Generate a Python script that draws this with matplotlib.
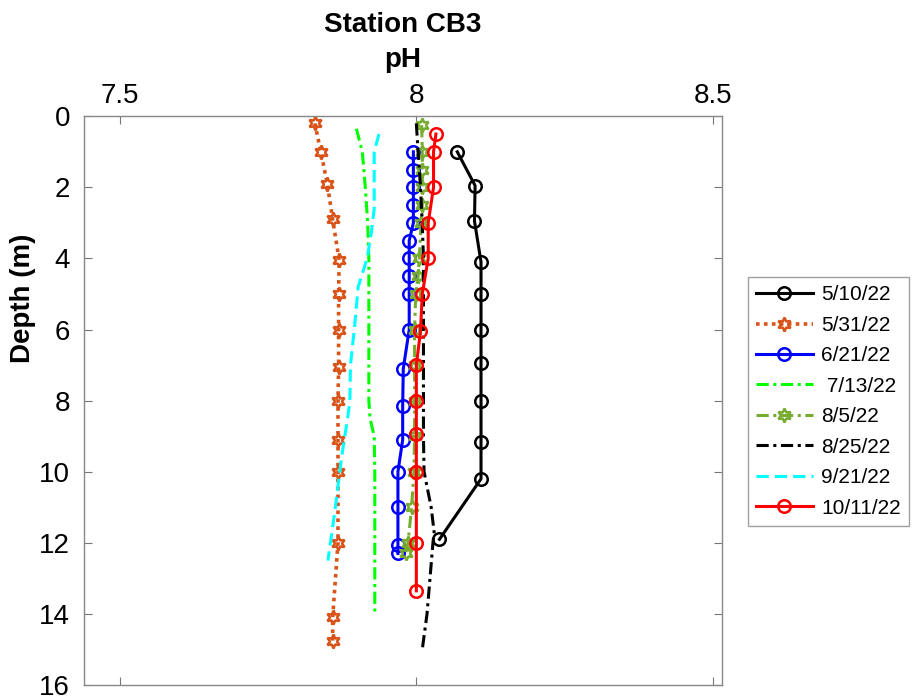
import matplotlib
matplotlib.use('Agg')
import matplotlib.pyplot as plt

plt.rcParams['font.family'] = ['Liberation Sans', 'DejaVu Sans']

# pH profiles, station CB3 (depth in m)
d_0510 = [1.0, 1.95, 2.95, 4.1, 5.0, 6.0, 6.95, 8.0, 9.15, 10.2, 11.9]
ph_0510 = [8.069, 8.099, 8.098, 8.109, 8.109, 8.109, 8.109, 8.109, 8.109, 8.109, 8.039]

d_0531 = [0.2, 1.0, 1.9, 2.9, 4.05, 5.0, 6.0, 7.05, 8.0, 9.1, 10.0, 12.0, 14.1, 14.75]
ph_0531 = [7.829, 7.839, 7.850, 7.859, 7.870, 7.869, 7.869, 7.869, 7.868, 7.868, 7.868,
           7.868, 7.859, 7.859]

d_0621 = [1.0, 1.5, 2.0, 2.5, 3.0, 3.5, 4.0, 4.5, 5.0, 6.0, 7.1, 8.15, 9.1, 10.0, 11.0,
          12.05, 12.3]
ph_0621 = [7.995, 7.995, 7.995, 7.995, 7.995, 7.988, 7.988, 7.988, 7.988, 7.988, 7.978,
           7.977, 7.977, 7.969, 7.969, 7.969, 7.969]

d_0713 = [0.35, 1.0, 2.0, 3.0, 4.0, 5.0, 6.0, 7.0, 8.0, 8.5, 9.0, 10.0, 11.0, 12.0, 13.0, 14.0]
ph_0713 = [7.899, 7.909, 7.914, 7.918, 7.920, 7.920, 7.920, 7.920, 7.920, 7.922, 7.929,
           7.930, 7.930, 7.930, 7.930, 7.930]

d_0805 = [0.25, 1.0, 1.5, 2.0, 2.5, 3.0, 4.0, 4.5, 5.0, 6.0, 7.0, 8.0, 9.0, 10.0, 11.0,
          12.0, 12.3]
ph_0805 = [8.009, 8.010, 8.010, 8.010, 8.010, 8.008, 8.005, 8.003, 7.999, 7.997, 7.997,
           7.997, 7.997, 7.996, 7.992, 7.986, 7.982]

d_0825 = [0.2, 1.0, 2.0, 3.0, 4.0, 5.0, 6.0, 7.0, 8.0, 9.0, 10.0, 11.0, 11.7, 12.0, 13.0,
          14.0, 15.0]
ph_0825 = [8.000, 8.003, 8.007, 8.010, 8.012, 8.012, 8.012, 8.012, 8.012, 8.012, 8.013,
           8.025, 8.030, 8.028, 8.023, 8.018, 8.010]

d_0921 = [0.5, 1.0, 2.0, 2.6, 3.3, 4.0, 4.8, 5.9, 7.0, 8.0, 8.4, 9.6, 11.2, 12.5]
ph_0921 = [7.937, 7.929, 7.929, 7.929, 7.924, 7.917, 7.902, 7.896, 7.889, 7.888, 7.885,
           7.874, 7.862, 7.851]

d_1011 = [0.5, 1.0, 2.0, 3.0, 4.0, 5.0, 6.05, 7.0, 8.0, 8.95, 10.0, 12.0, 13.35]
ph_1011 = [8.033, 8.029, 8.029, 8.020, 8.020, 8.010, 8.007, 8.000, 8.000, 8.000, 8.000,
           8.000, 8.000]

star6 = (6, 1, 0)

fig = plt.figure(figsize=(9.19, 7), dpi=100)
ax = fig.add_axes([0.0914, 0.0214, 0.6942, 0.8125])

lw = 2.2
circ = dict(marker='o', ms=9, mfc='none', mew=1.8)
star = dict(marker=star6, ms=10, mfc='none', mew=1.8)
dashdot = (0, (4, 1.5, 1, 1.5))
ax.plot(ph_0510, d_0510, '-', color='black', lw=lw, label='5/10/22', **circ)
ax.plot(ph_0531, d_0531, color='#D95319', lw=2.6, ls=(0, (1, 1.2)), label='5/31/22', **star)
ax.plot(ph_0621, d_0621, '-', color='blue', lw=lw, label='6/21/22', **circ)
ax.plot(ph_0713, d_0713, color='#00FF00', lw=lw, ls=dashdot, label=' 7/13/22')
ax.plot(ph_0805, d_0805, color='#77AC30', lw=lw, ls=dashdot, label='8/5/22', **star)
ax.plot(ph_0825, d_0825, color='black', lw=lw, ls=dashdot, label='8/25/22')
ax.plot(ph_0921, d_0921, color='#00FFFF', lw=lw, ls=(0, (4, 2)), label='9/21/22')
ax.plot(ph_1011, d_1011, '-', color='red', lw=lw, label='10/11/22', **circ)

ax.set_xlim(7.44, 8.515)
ax.set_ylim(16, 0)
ax.set_xticks([7.5, 8, 8.5])
ax.set_xticklabels(['7.5', '8', '8.5'])
ax.set_yticks(range(0, 17, 2))
ax.xaxis.set_ticks_position('both')
ax.xaxis.set_label_position('top')
ax.yaxis.set_ticks_position('both')
ax.tick_params(axis='x', direction='in', labeltop=True, labelbottom=False,
               labelsize=20, pad=5, length=6, color='#777777')
ax.tick_params(axis='y', direction='in', labelsize=20, pad=10, length=6, color='#777777')
for s in ax.spines.values():
    s.set_color('#888888')
    s.set_linewidth(1.0)

fig.text(0.4385, 0.964, 'Station CB3', ha='center', va='center', fontsize=20,
         fontweight='bold')
fig.text(0.4385, 0.914, 'pH', ha='center', va='center', fontsize=20, fontweight='bold')
fig.text(0.025, 0.574, 'Depth (m)', ha='center', va='center', rotation=90, fontsize=20,
         fontweight='bold')

leg = ax.legend(loc='upper left', bbox_to_anchor=(748 / 919, 1 - 277 / 700),
                bbox_transform=fig.transFigure, fontsize=15, frameon=True,
                fancybox=False, borderaxespad=0, handlelength=2.7, handletextpad=0.4,
                labelspacing=0.55, borderpad=0.4)
leg.get_frame().set_edgecolor('#888888')
leg.get_frame().set_linewidth(1.0)

fig.savefig('out.png', dpi=100)
